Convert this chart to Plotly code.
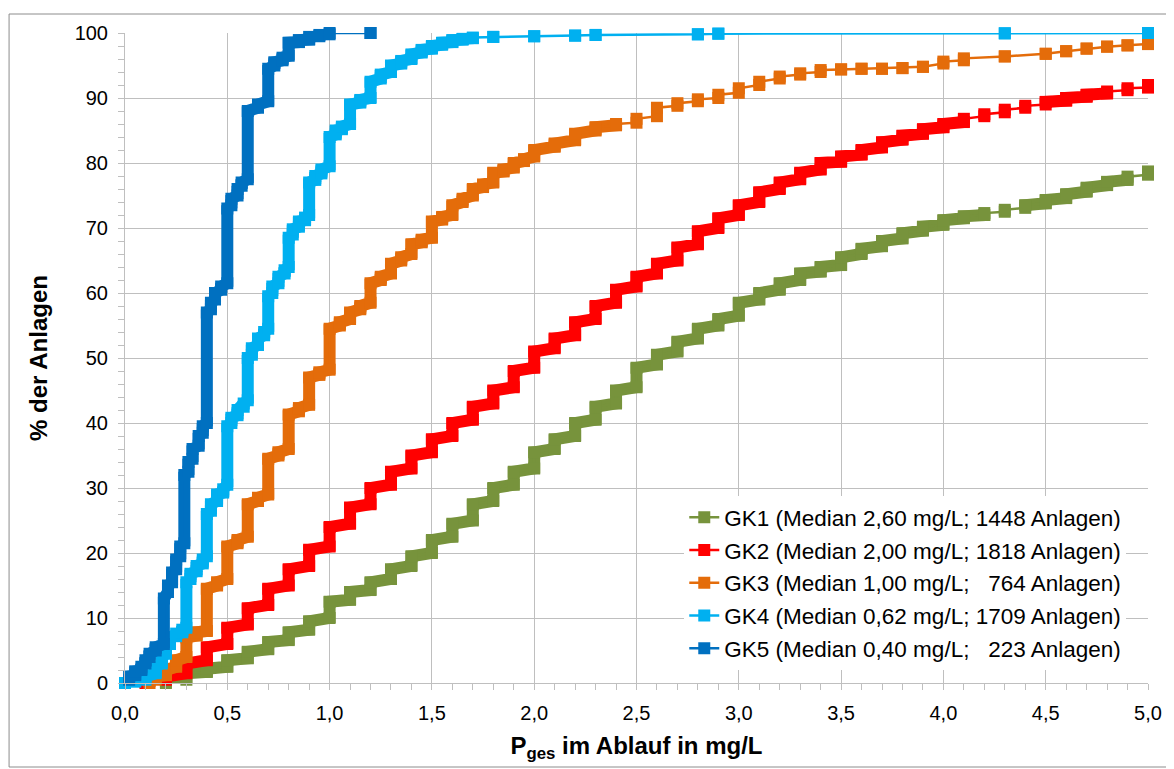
import plotly.graph_objects as go

# ---------------- data ----------------
names = [
    "GK1 (Median 2,60 mg/L; 1448 Anlagen)",
    "GK2 (Median 2,00 mg/L; 1818 Anlagen)",
    "GK3 (Median 1,00 mg/L; \u00a0\u00a0764 Anlagen)",
    "GK4 (Median 0,62 mg/L; 1709 Anlagen)",
    "GK5 (Median 0,40 mg/L; \u00a0\u00a0223 Anlagen)",
]
colors = ["#77933C", "#FF0000", "#E46C0A", "#00B0F0", "#0070C0"]

# GK1: value in mg/L, cumulative % before (lo) and after (hi) the plants with that value
x1 = [0.2, 0.3, 0.4, 0.5, 0.6, 0.7, 0.8, 0.9, 1.0, 1.1, 1.2, 1.3, 1.4, 1.5, 1.6, 1.7, 1.8, 1.9, 2.0,
      2.1, 2.2, 2.3, 2.4, 2.5, 2.6, 2.7, 2.8, 2.9, 3.0, 3.1, 3.2, 3.3, 3.4, 3.5, 3.6, 3.7, 3.8, 3.9,
      4.0, 4.1, 4.2, 4.3, 4.4, 4.5, 4.6, 4.7, 4.8, 4.9, 5.0]
lo1 = [0, 0.5, 1.7, 2.5, 3.8, 5.2, 6.6, 8.2, 10.0, 12.8, 14.3, 16.0, 18.0, 20.0, 22.5, 25.0, 28.0, 30.5, 33.0,
       36.0, 38.0, 40.5, 43.0, 45.5, 49.0, 51.0, 53.0, 55.0, 56.5, 59.0, 60.5, 62.0, 63.3, 64.3, 66.0, 67.2, 68.4, 69.6,
       70.5, 71.5, 72.0, 72.5, 73.1, 73.8, 74.6, 75.6, 76.6, 77.4, 78.2]
hi1 = [0.2, 1.5, 2.2, 3.5, 4.8, 6.3, 7.8, 9.5, 12.5, 14.0, 15.5, 17.5, 19.5, 22.0, 24.5, 27.5, 30.0, 32.5, 35.5,
       37.5, 40.0, 42.5, 45.0, 48.5, 50.5, 52.5, 54.5, 56.0, 58.5, 60.0, 61.5, 63.0, 64.0, 65.5, 66.8, 68.0, 69.2, 70.2,
       71.2, 71.8, 72.3, 72.8, 73.5, 74.3, 75.2, 76.2, 77.1, 77.9, 78.7]

# GK2
x2 = [0.1, 0.2, 0.3, 0.4, 0.5, 0.6, 0.7, 0.8, 0.9, 1.0, 1.1, 1.2, 1.3, 1.4, 1.5, 1.6, 1.7, 1.8, 1.9, 2.0,
      2.1, 2.2, 2.3, 2.4, 2.5, 2.6, 2.7, 2.8, 2.9, 3.0, 3.1, 3.2, 3.3, 3.4, 3.5, 3.6, 3.7, 3.8, 3.9, 4.0,
      4.1, 4.2, 4.3, 4.4, 4.5, 4.6, 4.7, 4.8, 4.9, 5.0]
lo2 = [0, 0.5, 1.5, 3.5, 6.0, 9.0, 12.0, 15.0, 18.0, 21.0, 24.5, 27.5, 30.5, 33.0, 35.5, 38.0, 40.5, 43.0, 45.5, 48.5,
       51.5, 53.5, 56.0, 58.5, 61.0, 63.0, 65.0, 67.5, 70.0, 72.0, 74.0, 76.0, 77.5, 79.0, 80.2, 81.3, 82.4, 83.6, 84.5, 85.5,
       86.3, 87.2, 87.8, 88.5, 89.0, 89.6, 90.2, 90.7, 91.2, 91.6]
hi2 = [0.2, 1.0, 3.0, 5.5, 8.5, 11.5, 14.5, 17.5, 20.5, 24.0, 27.0, 30.0, 32.5, 35.0, 37.5, 40.0, 42.5, 45.0, 48.0, 51.0,
       53.0, 55.5, 58.0, 60.5, 62.5, 64.5, 67.0, 69.5, 71.5, 73.5, 75.5, 77.0, 78.5, 80.0, 81.0, 82.0, 83.2, 84.2, 85.2, 86.0,
       86.8, 87.5, 88.2, 88.8, 89.4, 90.0, 90.5, 91.0, 91.5, 92.0]

# GK3
x3 = [0.12, 0.15, 0.20, 0.25, 0.30, 0.35, 0.40, 0.45, 0.50, 0.55, 0.60, 0.65, 0.70, 0.75, 0.80, 0.85, 0.90, 0.95,
      1.00, 1.05, 1.10, 1.15, 1.20, 1.25, 1.30, 1.35, 1.40, 1.45, 1.50, 1.55, 1.60, 1.65, 1.70, 1.75, 1.80, 1.85,
      1.90, 1.95, 2.00, 2.10, 2.20, 2.30, 2.40, 2.50, 2.60, 2.70, 2.80, 2.90, 3.00, 3.10, 3.20, 3.30, 3.40, 3.50,
      3.60, 3.70, 3.80, 3.90, 4.00, 4.10, 4.30, 4.50, 4.60, 4.70, 4.80, 4.90, 5.00]
lo3 = [0, 0.5, 1.2, 2.5, 4.0, 7.3, 8.0, 15.0, 16.0, 21.5, 22.5, 28.0, 29.0, 35.0, 36.0, 41.8, 42.8, 47.4,
       48.2, 55.0, 56.0, 57.5, 58.5, 62.0, 63.0, 65.0, 66.0, 67.8, 68.5, 71.3, 72.0, 74.0, 75.0, 76.3, 77.0, 78.7,
       79.3, 80.3, 81.0, 82.5, 83.5, 85.0, 85.8, 86.2, 87.2, 88.8, 89.5, 90.0, 90.8, 92.0, 93.0, 93.6, 94.0, 94.4,
       94.5, 94.5, 94.6, 94.8, 95.3, 95.8, 96.4, 96.8, 97.2, 97.6, 97.9, 98.1, 98.3]
hi3 = [0.3, 1.0, 2.0, 3.5, 7.0, 7.8, 14.5, 15.5, 21.0, 22.0, 27.5, 28.5, 34.5, 35.5, 41.3, 42.3, 47.0, 47.8,
       54.5, 55.5, 57.0, 58.0, 61.5, 62.5, 64.5, 65.5, 67.5, 68.2, 71.0, 71.7, 73.5, 74.5, 76.0, 76.7, 78.5, 79.0,
       80.0, 80.6, 82.0, 83.0, 84.5, 85.5, 86.0, 86.8, 88.5, 89.2, 89.8, 90.5, 91.5, 92.5, 93.3, 93.8, 94.3, 94.4,
       94.5, 94.5, 94.6, 94.8, 95.6, 96.1, 96.4, 96.8, 97.2, 97.6, 97.9, 98.1, 98.3]

# GK4
x4 = [0.00, 0.05, 0.10, 0.15, 0.18, 0.20, 0.22, 0.25, 0.28, 0.30, 0.32, 0.35, 0.38, 0.40, 0.42, 0.45, 0.48, 0.50,
      0.52, 0.55, 0.58, 0.60, 0.62, 0.65, 0.68, 0.70, 0.72, 0.75, 0.78, 0.80, 0.82, 0.85, 0.88, 0.90, 0.93, 0.96,
      1.00, 1.03, 1.06, 1.10, 1.15, 1.20, 1.25, 1.30, 1.35, 1.40, 1.45, 1.50, 1.55, 1.60, 1.65, 1.70, 1.80, 2.00,
      2.20, 2.30, 2.80, 2.90, 4.30, 5.00]
lo4 = [0, 0.2, 0.5, 1.5, 3.0, 4.5, 6.0, 7.2, 7.8, 8.5, 16.0, 17.2, 18.4, 19.5, 26.5, 28.0, 29.3, 30.5,
       40.0, 41.2, 42.5, 43.5, 50.5, 52.0, 53.5, 54.5, 60.0, 61.5, 63.0, 64.0, 69.0, 70.2, 71.2, 72.0, 77.4, 78.4,
       79.5, 84.4, 85.2, 86.0, 89.3, 90.0, 93.0, 94.0, 95.3, 96.0, 97.0, 97.6, 98.2, 98.6, 99.0, 99.2, 99.4, 99.5,
       99.6, 99.7, 99.8, 99.9, 99.95, 100]
hi4 = [0, 0.4, 1.0, 2.5, 4.0, 5.5, 7.0, 7.6, 8.2, 15.5, 16.8, 18.0, 19.0, 26.0, 27.5, 29.0, 29.8, 39.5,
       40.8, 42.0, 43.0, 50.0, 51.5, 53.0, 54.0, 59.5, 61.0, 62.5, 63.5, 68.5, 69.8, 71.0, 71.6, 77.0, 78.0, 79.0,
       84.0, 85.0, 85.6, 89.0, 89.7, 92.5, 93.6, 95.0, 95.7, 96.7, 97.4, 98.0, 98.5, 98.9, 99.1, 99.3, 99.4, 99.5,
       99.6, 99.7, 99.8, 99.9, 99.95, 100]

# GK5
x5 = [0.02, 0.05, 0.08, 0.10, 0.12, 0.15, 0.19, 0.21, 0.23, 0.25, 0.27, 0.29, 0.31, 0.33, 0.36, 0.38, 0.40,
      0.42, 0.44, 0.47, 0.50, 0.52, 0.55, 0.57, 0.60, 0.65, 0.70, 0.73, 0.77, 0.80, 0.85, 0.90, 0.95, 1.00, 1.20]
lo5 = [0.5, 1.2, 2.0, 3.0, 4.0, 5.0, 6.0, 14.0, 15.5, 17.5, 19.5, 21.5, 32.5, 34.5, 36.5, 38.5, 40.0,
       57.5, 59.0, 60.5, 61.5, 73.5, 75.0, 76.5, 77.5, 88.5, 89.5, 95.0, 95.8, 96.5, 98.6, 99.0, 99.5, 99.8, 100]
hi5 = [1.0, 1.8, 2.5, 3.5, 4.5, 5.5, 13.0, 15.0, 17.0, 19.0, 21.0, 32.0, 34.0, 36.0, 38.0, 39.5, 57.0,
       58.5, 60.0, 61.0, 73.0, 74.5, 76.0, 77.0, 88.0, 89.0, 94.5, 95.5, 96.2, 98.5, 98.9, 99.4, 99.7, 100, 100]

xs_all = [x1, x2, x3, x4, x5]
los_all = [lo1, lo2, lo3, lo4, lo5]
his_all = [hi1, hi2, hi3, hi4, hi5]

# style: x-ranges where the many overlapping plant markers form a solid band
band_ranges = [
    [(0.2, 4.2), (4.4, 4.9)],
    [(0.1, 4.1), (4.5, 4.8)],
    [(0.12, 2.4)],
    [(0.0, 1.7)],
    [(0.02, 0.9)],
]

MS = 12  # marker size (px)


def stepped(xv, lov, hiv, a=None, b=None):
    px, py = [], []
    for xx, l, h in zip(xv, lov, hiv):
        if a is not None and not (a - 1e-9 <= xx <= b + 1e-9):
            continue
        px += [xx, xx]
        py += [l, h]
    return px, py


fig = go.Figure()
for i in range(5):
    grp = "g%d" % i
    for (a, b) in band_ranges[i]:
        bx, by = stepped(xs_all[i], los_all[i], his_all[i], a, b)
        fig.add_trace(go.Scatter(
            x=bx, y=by, mode="lines", legendgroup=grp, showlegend=False,
            line=dict(color=colors[i], width=MS), cliponaxis=False, hoverinfo="skip"))
    px_, py_ = stepped(xs_all[i], los_all[i], his_all[i])
    fig.add_trace(go.Scatter(
        x=px_, y=py_, mode="lines+markers", name=names[i], legendgroup=grp,
        line=dict(color=colors[i], width=2.5),
        marker=dict(symbol="square", size=MS, color=colors[i]),
        cliponaxis=False))

grid = "#BFBFBF"
FONT = "Liberation Sans, Arial, sans-serif"

# the page body has an 8 px margin: figure is drawn at page offset (8, 8)
OFF = 8
W, H = 1174 - OFF, 769 - OFF
L, R, T, B = 125 - OFF, 21, 33 - OFF, 86
pw, ph = W - L - R, H - T - B


def pxp(xpage):
    return (xpage - OFF - L) / pw


def pyp(ypage):
    return (H - B - (ypage - OFF)) / ph


fig.update_layout(
    width=W, height=H,
    margin=dict(l=L, r=R, t=T, b=B),
    paper_bgcolor="white", plot_bgcolor="white",
    separators=",.",
    font=dict(family=FONT, color="black"),
    showlegend=True,
    legend=dict(
        x=pxp(687), y=pyp(496), xanchor="left", yanchor="top",
        bgcolor="white", borderwidth=0, font=dict(size=22.5, family=FONT, color="black"),
        itemwidth=30, tracegroupgap=0.5, traceorder="grouped",
    ),
    xaxis=dict(
        range=[0, 5], tick0=0, dtick=0.5, tickformat=".1f",
        showgrid=True, gridcolor=grid, gridwidth=1,
        showline=True, linecolor=grid, linewidth=1, zeroline=False,
        ticks="outside", ticklen=6, tickcolor=grid, tickwidth=1,
        tickfont=dict(size=20, family=FONT, color="black"),
        ticklabelstandoff=6,
        minor=dict(dtick=0.1, ticks="outside", ticklen=6, tickcolor=grid, showgrid=False),
        title=dict(text="P<sub>ges</sub> im Ablauf in mg/L",
                   font=dict(size=24, family=FONT, color="black", weight="bold"), standoff=14),
    ),
    yaxis=dict(
        range=[0, 100], tick0=0, dtick=10,
        showgrid=True, gridcolor=grid, gridwidth=1,
        showline=True, linecolor=grid, linewidth=1, zeroline=False,
        ticks="outside", ticklen=6, tickcolor=grid, tickwidth=1,
        tickfont=dict(size=20, family=FONT, color="black"),
        ticklabelstandoff=6,
        minor=dict(dtick=2, ticks="outside", ticklen=6, tickcolor=grid, showgrid=False),
        title=dict(text="% der Anlagen",
                   font=dict(size=24, family=FONT, color="black", weight="bold"), standoff=20),
    ),
    shapes=[dict(type="rect", xref="paper", yref="paper",
                 x0=pxp(8.5), x1=pxp(1172), y0=pyp(767), y1=pyp(14),
                 line=dict(color="#8C8C8C", width=1), fillcolor="rgba(0,0,0,0)", layer="below")],
)

fig.write_html("out.html")
